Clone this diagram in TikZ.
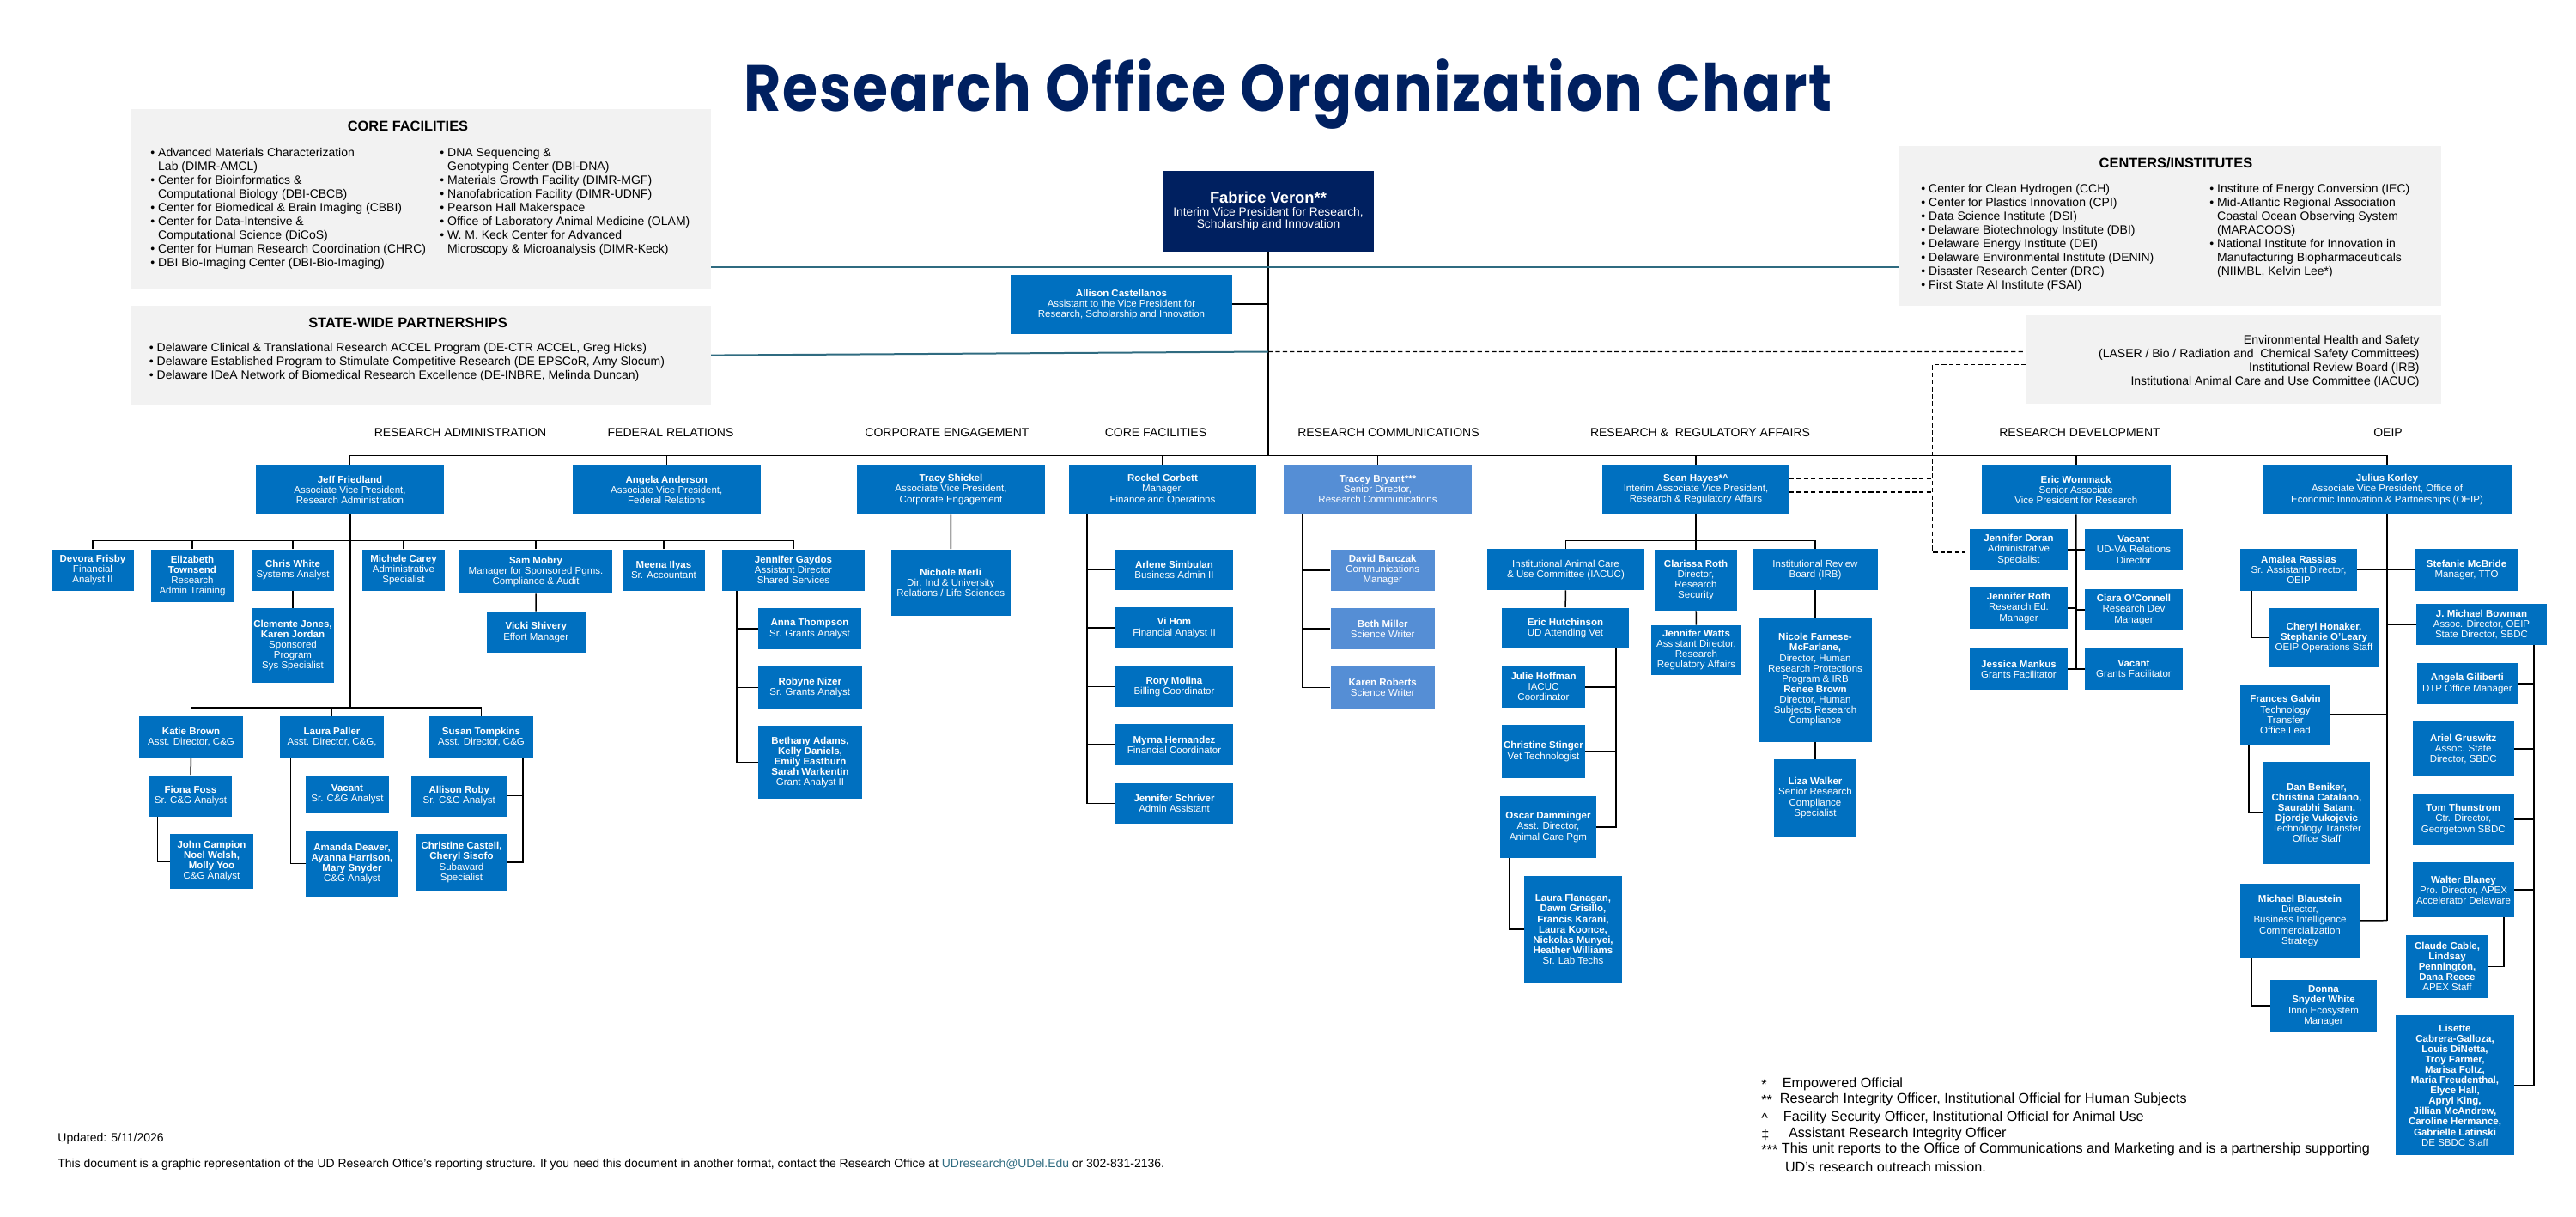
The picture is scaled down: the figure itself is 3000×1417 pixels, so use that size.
\documentclass[tikz,border=0pt]{standalone}
\usepackage{fontspec}
\setmainfont{Liberation Sans}
\newfontfamily\titlefont[LetterSpace=3]{Poppins}
\definecolor{orgblue}{HTML}{0070C0}
\definecolor{orglight}{HTML}{558ED5}
\definecolor{orgnavy}{HTML}{002060}
\definecolor{panelgray}{HTML}{F2F2F2}
\definecolor{linkteal}{HTML}{2F6B80}
\tikzset{
	unit/.style={fill=orgblue,text=white,inner sep=0pt,align=center,font=\fontsize{5.75}{6.05}\selectfont},
	comms/.style={unit,fill=orglight},
	chief/.style={unit,fill=orgnavy,font=\fontsize{6.9}{7.3}\selectfont},
	panel/.style={fill=panelgray,inner sep=0pt},
	panelhead/.style={inner sep=0pt,font=\fontsize{8.2}{9}\selectfont\bfseries},
	listing/.style={inner sep=0pt,anchor=north west,align=left,font=\fontsize{7}{8}\selectfont},
	branch/.style={inner sep=0pt,font=\fontsize{7}{8}\selectfont},
	note/.style={inner sep=0pt,anchor=west,font=\fontsize{8.1}{9}\selectfont},
	conn/.style={draw=black,line width=0.75pt},
	trunk/.style={draw=black,line width=1pt},
	teal/.style={draw=linkteal,line width=1pt},
	dotted link/.style={draw=black,line width=0.6pt,dash pattern=on 2.6pt off 1.6pt}
}
% name, left, top, right, bottom, text
\newcommand{\orgbox}[7][unit]{\node[#1,minimum width={(#5-#3)*0.5pt},minimum height={(#6-#4)*0.5pt}] (#2) at ({(#3+#5)/2},{(#4+#6)/2}) {#7};}
\newcommand{\who}[1]{\textbf{#1}}
\begin{document}
\begin{tikzpicture}[x=0.5pt,y=-0.5pt]
	\useasboundingbox (0,0) rectangle (3000,1417);
	% title
	\node[inner sep=0pt,text=orgnavy,xscale=0.875,transform shape,font=\titlefont\fontsize{38}{40}\selectfont\bfseries] (title) at (1500,110) {Research Office Organization Chart};
	% panels
	\orgbox[panel]{corepanel}{152}{127.5}{828}{337.5}{}
	\orgbox[panel]{statepanel}{152}{356}{828}{472}{}
	\orgbox[panel]{centerpanel}{2212}{170}{2843}{356}{}
	\orgbox[panel]{envpanel}{2359}{367}{2843}{470}{}
	\node[panelhead] (corehead) at (475,147) {CORE FACILITIES};
	\node[listing] (corelist1) at (175,172) {• Advanced Materials Characterization\\\phantom{• }Lab (DIMR-AMCL)\\• Center for Bioinformatics \&\\\phantom{• }Computational Biology (DBI-CBCB)\\• Center for Biomedical \& Brain Imaging (CBBI)\\• Center for Data-Intensive \&\\\phantom{• }Computational Science (DiCoS)\\• Center for Human Research Coordination (CHRC)\\• DBI Bio-Imaging Center (DBI-Bio-Imaging)};
	\node[listing] (corelist2) at (512,172) {• DNA Sequencing \&\\\phantom{• }Genotyping Center (DBI-DNA)\\• Materials Growth Facility (DIMR-MGF)\\• Nanofabrication Facility (DIMR-UDNF)\\• Pearson Hall Makerspace\\• Office of Laboratory Animal Medicine (OLAM)\\• W. M. Keck Center for Advanced\\\phantom{• }Microscopy \& Microanalysis (DIMR-Keck)};
	\node[panelhead] (statehead) at (475,376) {STATE-WIDE PARTNERSHIPS};
	\node[listing] (statelist) at (173.5,399) {• Delaware Clinical \& Translational Research ACCEL Program (DE-CTR ACCEL, Greg Hicks)\\• Delaware Established Program to Stimulate Competitive Research (DE EPSCoR, Amy Slocum)\\• Delaware IDeA Network of Biomedical Research Excellence (DE-INBRE, Melinda Duncan)};
	\node[panelhead] (centerhead) at (2534,190) {CENTERS/INSTITUTES};
	\node[listing] (centerlist1) at (2237,214) {• Center for Clean Hydrogen (CCH)\\• Center for Plastics Innovation (CPI)\\• Data Science Institute (DSI)\\• Delaware Biotechnology Institute (DBI)\\• Delaware Energy Institute (DEI)\\• Delaware Environmental Institute (DENIN)\\• Disaster Research Center (DRC)\\• First State AI Institute (FSAI)};
	\node[listing] (centerlist2) at (2573,214) {• Institute of Energy Conversion (IEC)\\• Mid-Atlantic Regional Association\\\phantom{• }Coastal Ocean Observing System\\\phantom{• }(MARACOOS)\\• National Institute for Innovation in\\\phantom{• }Manufacturing Biopharmaceuticals\\\phantom{• }(NIIMBL, Kelvin Lee*)};
	\node[listing,anchor=north east,align=right] (envlist) at (2818,390) {Environmental Health and Safety\\(LASER / Bio / Radiation and\ \ Chemical Safety Committees)\\Institutional Review Board (IRB)\\Institutional Animal Care and Use Committee (IACUC)};
	% branch labels
	\node[branch] (lab1) at (536,504) {RESEARCH ADMINISTRATION};
	\node[branch] (lab2) at (781,504) {FEDERAL RELATIONS};
	\node[branch] (lab3) at (1103,504) {CORPORATE ENGAGEMENT};
	\node[branch] (lab4) at (1346,504) {CORE FACILITIES};
	\node[branch] (lab5) at (1617,504) {RESEARCH COMMUNICATIONS};
	\node[branch] (lab6) at (1980,504) {RESEARCH \&\ \ REGULATORY AFFAIRS};
	\node[branch] (lab7) at (2422,504) {RESEARCH DEVELOPMENT};
	\node[branch] (lab8) at (2781,504) {OEIP};
	% top of the office
	\orgbox[chief]{veron}{1354}{199}{1600}{293}{{\fontsize{9.2}{10}\selectfont\who{Fabrice Veron**}}\\Interim Vice President for Research,\\Scholarship and Innovation}
	\orgbox{castellanos}{1177}{320}{1435}{389}{\who{Allison Castellanos}\\Assistant to the Vice President for\\Research, Scholarship and Innovation}
	% heads of branches
	\orgbox{friedland}{298}{541}{517}{599}{\who{Jeff Friedland}\\Associate Vice President,\\Research Administration}
	\orgbox{anderson}{666.5}{541}{886}{599}{\who{Angela Anderson}\\Associate Vice President,\\Federal Relations}
	\orgbox{shickel}{998}{541}{1217}{599}{\who{Tracy Shickel}\\Associate Vice President,\\Corporate Engagement}
	\orgbox{corbett}{1245}{541}{1463}{599}{\who{Rockel Corbett}\\Manager,\\Finance and Operations}
	\orgbox[comms]{bryant}{1495}{541}{1714}{599}{\who{Tracey Bryant***}\\Senior Director,\\Research Communications}
	\orgbox{hayes}{1866}{541}{2084}{599}{\who{Sean Hayes*\textasciicircum}\\Interim Associate Vice President,\\Research \& Regulatory Affairs}
	\orgbox{wommack}{2308}{541}{2527.5}{599}{\who{Eric Wommack}\\Senior Associate\\Vice President for Research}
	\orgbox{korley}{2635}{541}{2925}{599}{\who{Julius Korley}\\Associate Vice President, Office of\\Economic Innovation \& Partnerships (OEIP)}
	% research administration
	\orgbox{frisby}{60}{639.5}{156}{688}{\who{Devora Frisby}\\Financial\\Analyst II}
	\orgbox{townsend}{176}{639.5}{272}{701}{\who{Elizabeth}\\\who{Townsend}\\Research\\Admin Training}
	\orgbox{white}{293}{639.5}{389}{688}{\who{Chris White}\\Systems Analyst}
	\orgbox{jones}{293}{708}{389}{794.5}{\who{Clemente Jones,}\\\who{Karen Jordan}\\Sponsored\\Program\\Sys Specialist}
	\orgbox{carey}{422}{639.5}{518}{688}{\who{Michele Carey}\\Administrative\\Specialist}
	\orgbox{mobry}{535}{639.5}{713}{691}{\who{Sam Mobry}\\Manager for Sponsored Pgms.\\Compliance \& Audit}
	\orgbox{shivery}{566.5}{712}{682}{760}{\who{Vicki Shivery}\\Effort Manager}
	\orgbox{ilyas}{725}{639.5}{821}{688}{\who{Meena Ilyas}\\Sr. Accountant}
	\orgbox{gaydos}{841}{639.5}{1007}{688}{\who{Jennifer Gaydos}\\Assistant Director\\Shared Services}
	\orgbox{thompson}{883}{708}{1003}{756}{\who{Anna Thompson}\\Sr. Grants Analyst}
	\orgbox{nizer}{883}{776}{1003.5}{825}{\who{Robyne Nizer}\\Sr. Grants Analyst}
	\orgbox{adams}{883}{845}{1004}{930}{\who{Bethany Adams,}\\\who{Kelly Daniels,}\\\who{Emily Eastburn}\\\who{Sarah Warkentin}\\Grant Analyst II}
	\orgbox{merli}{1037.5}{639.5}{1177}{717}{\who{Nichole Merli}\\Dir. Ind \& University\\Relations / Life Sciences}
	\orgbox{brown}{162}{834}{283}{882}{\who{Katie Brown}\\Asst. Director, C\&G}
	\orgbox{paller}{326}{834}{447}{882}{\who{Laura Paller}\\Asst. Director, C\&G,}
	\orgbox{tompkins}{500}{834}{621}{882}{\who{Susan Tompkins}\\Asst. Director, C\&G}
	\orgbox{foss}{174}{902.6}{270}{950.5}{\who{Fiona Foss}\\Sr. C\&G Analyst}
	\orgbox{campion}{198}{971}{295}{1034.5}{\who{John Campion}\\\who{Noel Welsh,}\\\who{Molly Yoo}\\C\&G Analyst}
	\orgbox{vacantcg}{356}{902.6}{453}{946.6}{\who{Vacant}\\Sr. C\&G Analyst}
	\orgbox{deaver}{356}{967}{464}{1044.4}{\who{Amanda Deaver,}\\\who{Ayanna Harrison,}\\\who{Mary Snyder}\\C\&G Analyst}
	\orgbox{roby}{478.6}{902.6}{591}{950.5}{\who{Allison Roby}\\Sr. C\&G Analyst}
	\orgbox{castell}{484}{971}{591}{1037}{\who{Christine Castell,}\\\who{Cheryl Sisofo}\\Subaward\\Specialist}
	% core facilities
	\orgbox{simbulan}{1299}{639.6}{1436}{687}{\who{Arlene Simbulan}\\Business Admin II}
	\orgbox{hom}{1299}{707}{1436}{755}{\who{Vi Hom}\\Financial Analyst II}
	\orgbox{molina}{1299}{775.5}{1436}{823}{\who{Rory Molina}\\Billing Coordinator}
	\orgbox{hernandez}{1299}{843}{1436}{891}{\who{Myrna Hernandez}\\Financial Coordinator}
	\orgbox{schriver}{1299}{911.5}{1436}{959}{\who{Jennifer Schriver}\\Admin Assistant}
	% research communications
	\orgbox[comms]{barczak}{1549.5}{639.6}{1671}{688}{\who{David Barczak}\\Communications\\Manager}
	\orgbox[comms]{miller}{1549.5}{708}{1671}{756}{\who{Beth Miller}\\Science Writer}
	\orgbox[comms]{roberts}{1549.5}{776}{1671}{824.5}{\who{Karen Roberts}\\Science Writer}
	% regulatory affairs
	\orgbox{iacuc}{1732}{639.3}{1915}{687}{Institutional Animal Care\\\&\ Use Committee (IACUC)}
	\orgbox{roth}{1927}{640}{2023}{711}{\who{Clarissa Roth}\\Director,\\Research\\Security}
	\orgbox{irb}{2041}{639.3}{2187}{687}{Institutional Review\\Board (IRB)}
	\orgbox{hutchinson}{1749}{707.5}{1897}{755.3}{\who{Eric Hutchinson}\\UD Attending Vet}
	\orgbox{watts}{1923}{728}{2028}{785.6}{\who{Jennifer Watts}\\Assistant Director,\\Research\\Regulatory Affairs}
	\orgbox{farnese}{2048}{719}{2180}{863.5}{\who{Nicole Farnese-}\\\who{McFarlane,}\\Director, Human\\Research Protections\\Program \& IRB\\\who{Renee Brown}\\Director, Human\\Subjects Research\\Compliance}
	\orgbox{walker}{2066}{884}{2162}{974}{\who{Liza Walker}\\Senior Research\\Compliance\\Specialist}
	\orgbox{hoffman}{1749}{776}{1846}{823.5}{\who{Julie Hoffman}\\IACUC\\Coordinator}
	\orgbox{stinger}{1749}{844}{1846}{906}{\who{Christine Stinger}\\Vet Technologist}
	\orgbox{damminger}{1747}{927}{1859}{999}{\who{Oscar Damminger}\\Asst. Director,\\Animal Care Pgm}
	\orgbox{flanagan}{1775}{1020}{1889}{1144}{\who{Laura Flanagan,}\\\who{Dawn Grisillo,}\\\who{Francis Karani,}\\\who{Laura Koonce,}\\\who{Nickolas Munyei,}\\\who{Heather Williams}\\Sr. Lab Techs}
	% research development
	\orgbox{doran}{2294}{616}{2408}{664}{\who{Jennifer Doran}\\Administrative\\Specialist}
	\orgbox{vacantva}{2428}{616}{2542}{664}{\who{Vacant}\\UD-VA Relations\\Director}
	\orgbox{jroth}{2294}{684}{2408}{732}{\who{Jennifer Roth}\\Research Ed.\\Manager}
	\orgbox{oconnell}{2428}{686}{2542}{734}{\who{Ciara O’Connell}\\Research Dev\\Manager}
	\orgbox{mankus}{2294}{755}{2408}{803}{\who{Jessica Mankus}\\Grants Facilitator}
	\orgbox{vacantgf}{2428}{755}{2542}{803}{\who{Vacant}\\Grants Facilitator}
	% oeip
	\orgbox{rassias}{2609}{639}{2745}{688}{\who{Amalea Rassias}\\Sr. Assistant Director,\\OEIP}
	\orgbox{mcbride}{2812}{639}{2933}{688}{\who{Stefanie McBride}\\Manager, TTO}
	\orgbox{honaker}{2643}{708}{2770}{777}{\who{Cheryl Honaker,}\\\who{Stephanie O’Leary}\\OEIP Operations Staff}
	\orgbox{bowman}{2814}{703}{2966}{751}{\who{J. Michael Bowman}\\Assoc. Director, OEIP\\State Director, SBDC}
	\orgbox{galvin}{2609}{797}{2714}{867}{\who{Frances Galvin}\\Technology\\Transfer\\Office Lead}
	\orgbox{beniker}{2636}{887}{2760}{1005.7}{\who{Dan Beniker,}\\\who{Christina Catalano,}\\\who{Saurabhi Satam,}\\\who{Djordje Vukojevic}\\Technology Transfer\\Office Staff}
	\orgbox{giliberti}{2814.6}{772}{2932}{820}{\who{Angela Giliberti}\\DTP Office Manager}
	\orgbox{gruswitz}{2810}{840}{2927.5}{904}{\who{Ariel Gruswitz}\\Assoc. State\\Director, SBDC}
	\orgbox{thunstrom}{2810}{924}{2927.5}{984}{\who{Tom Thunstrom}\\Ctr. Director,\\Georgetown SBDC}
	\orgbox{blaney}{2810}{1004}{2928}{1068}{\who{Walter Blaney}\\Pro. Director, APEX\\Accelerator Delaware}
	\orgbox{cable}{2802}{1088.7}{2898}{1162}{\who{Claude Cable,}\\\who{Lindsay}\\\who{Pennington,}\\\who{Dana Reece}\\APEX Staff}
	\orgbox{cabrera}{2790}{1182}{2928}{1345}{\who{Lisette}\\\who{Cabrera-Galloza,}\\\who{Louis DiNetta,}\\\who{Troy Farmer,}\\\who{Marisa Foltz,}\\\who{Maria Freudenthal,}\\\who{Elyce Hall,}\\\who{Apryl King,}\\\who{Jillian McAndrew,}\\\who{Caroline Hermance,}\\\who{Gabrielle Latinski}\\DE SBDC Staff}
	\orgbox{blaustein}{2609}{1029}{2748}{1115}{\who{Michael Blaustein}\\Director,\\Business Intelligence\\Commercialization\\Strategy}
	\orgbox{snyder}{2644}{1140.7}{2768}{1201.7}{\who{Donna}\\\who{Snyder White}\\Inno Ecosystem\\Manager}
	% main trunk and bus
	\coordinate (mainbus) at (1477,530.5);
	\coordinate (assistjoin) at (1477,354);
	\coordinate (statejoin) at (1477,409.5);
	\draw[trunk] (veron.south) -- (mainbus);
	\draw[conn] (castellanos.east |- assistjoin) -- (assistjoin);
	\foreach \n in {friedland,anderson,shickel,corbett,bryant,hayes,wommack,korley}
		\draw[conn] (\n.north) |- (mainbus);
	% panel links
	\coordinate (coreport) at (828,311);
	\coordinate (centerport) at (2212,311);
	\coordinate (stateport) at (828,413.6);
	\coordinate (envporta) at (2359,409.6);
	\coordinate (envportb) at (2359,424.6);
	\coordinate (dashcol) at (2250.6,424.6);
	\coordinate (dashlow) at (2250.6,643);
	\coordinate (dashend) at (2288,643);
	\coordinate (hayesa) at (2084,557.5);
	\coordinate (hayesb) at (2084,573);
	\draw[teal] (coreport) -- (centerport);
	\draw[teal] (stateport) -- (statejoin);
	\draw[dotted link] (statejoin) -- (envporta);
	\draw[dotted link] (envportb) -- (dashcol) -- (dashlow) -- (dashend);
	\draw[dotted link] (hayesa) -- (hayesa -| dashcol);
	\draw[dotted link] (hayesb) -- (hayesb -| dashcol);
	% research administration lines
	\coordinate (adminbus) at (407.5,629.5);
	\coordinate (adminlow) at (407.5,824);
	\draw[trunk] (friedland.south) -- (adminlow);
	\foreach \n in {frisby,townsend,white,carey,mobry,ilyas,gaydos}
		\draw[conn] (\n.north) |- (adminbus);
	\foreach \n in {brown,paller,tompkins}
		\draw[conn] (\n.north) |- (adminlow);
	\draw[conn] (white) -- (jones);
	\draw[conn] (mobry) -- (shivery);
	\draw[conn] (shickel) -- (merli);
	\draw[conn] (brown) -- (foss);
	\coordinate (gaydostop) at (858,688);
	\coordinate (fosstop) at (183.5,950.5);
	\coordinate (pallertop) at (338.4,882);
	\coordinate (tompkinstop) at (609,882);
	\foreach \n in {thompson,nizer,adams}
		\draw[conn] (gaydostop) |- (\n.west);
	\draw[conn] (fosstop) |- (campion.west);
	\draw[conn] (pallertop) |- (vacantcg.west);
	\draw[conn] (pallertop) |- (deaver.west);
	\draw[conn] (tompkinstop) |- (roby.east);
	\draw[conn] (tompkinstop) |- (castell.east);
	% core facilities and communications lines
	\coordinate (corbetttop) at (1266,599);
	\coordinate (bryanttop) at (1517,599);
	\foreach \n in {simbulan,hom,molina,hernandez,schriver}
		\draw[conn] (corbetttop) |- (\n.west);
	\foreach \n in {barczak,miller,roberts}
		\draw[conn] (bryanttop) |- (\n.west);
	% regulatory lines
	\coordinate (hayesbus) at (1975,629.3);
	\draw[trunk] (hayes.south) -- (hayesbus);
	\foreach \n in {iacuc,roth,irb}
		\draw[conn] (\n.north) |- (hayesbus);
	\draw[conn] (iacuc) -- (hutchinson);
	\draw[conn] (roth) -- (watts);
	\draw[conn] (irb) -- (farnese);
	\draw[conn] (farnese) -- (walker);
	\coordinate (hutchtop) at (1882,755.3);
	\coordinate (dammtop) at (1758,999);
	\foreach \n in {hoffman,stinger,damminger}
		\draw[conn] (hutchtop) |- (\n.east);
	\draw[conn] (dammtop) |- (flanagan.west);
	% research development lines
	\coordinate (wommacklow) at (2418,779);
	\draw[conn] (wommack.south) -- (wommacklow);
	\foreach \n in {doran,jroth,mankus}
		\draw[conn] (wommacklow) |- (\n.east);
	\foreach \n in {vacantva,oconnell,vacantgf}
		\draw[conn] (wommacklow) |- (\n.west);
	% oeip lines
	\coordinate (korleylow) at (2780,1071.7);
	\coordinate (rassiastop) at (2622.7,688);
	\coordinate (galvintop) at (2619,867);
	\coordinate (blaustop) at (2622.7,1115);
	\coordinate (bowmantop) at (2951,751);
	\coordinate (blaneytop) at (2916,1068);
	\draw[conn] (korley.south) -- (korleylow);
	\draw[conn] (rassias) -- (mcbride);
	\draw[conn] (korleylow) |- (bowman.west);
	\draw[conn] (galvin.east) -- (galvin.east -| korleylow);
	\draw[conn] (blaustein.east) -- (korleylow);
	\draw[conn] (rassiastop) |- (honaker.west);
	\draw[conn] (galvintop) |- (beniker.west);
	\draw[conn] (blaustop) |- (snyder.west);
	\foreach \n in {giliberti,gruswitz,thunstrom,blaney,cabrera}
		\draw[conn] (bowmantop) |- (\n.east);
	\draw[conn] (blaneytop) |- (cable.east);
	% footer
	\node[inner sep=0pt,anchor=west,font=\fontsize{7}{8}\selectfont] (updated) at (67,1325.7) {Updated: 5/11/2026};
	\node[inner sep=0pt,anchor=west,font=\fontsize{6.97}{8}\selectfont] (access) at (67,1357) {This document is a graphic representation of the UD Research Office’s reporting structure. If you need this document in another format, contact the Research Office at \textcolor{linkteal}{\underline{UDresearch@UDel.Edu}} or 302-831-2136.};
	% footnotes
	\node[note] (mark1) at (2051,1262.7) {*};
	\node[note] (mark2) at (2051,1280.7) {**};
	\node[note] (mark3) at (2051,1301.7) {\textasciicircum};
	\node[note] (mark4) at (2051,1320.7) {‡};
	\node[note] (mark5) at (2051,1338.7) {***};
	\node[note] (note1) at (2075.5,1262.7) {Empowered Official};
	\node[note] (note2) at (2072.4,1280.7) {Research Integrity Officer, Institutional Official for Human Subjects};
	\node[note] (note3) at (2076.5,1301.7) {Facility Security Officer, Institutional Official for Animal Use};
	\node[note] (note4) at (2082.6,1320.7) {Assistant Research Integrity Officer};
	\node[note] (note5) at (2074.5,1338.7) {This unit reports to the Office of Communications and Marketing and is a partnership supporting};
	\node[note] (note6) at (2078.6,1359) {UD’s research outreach mission.};
\end{tikzpicture}
\end{document}
